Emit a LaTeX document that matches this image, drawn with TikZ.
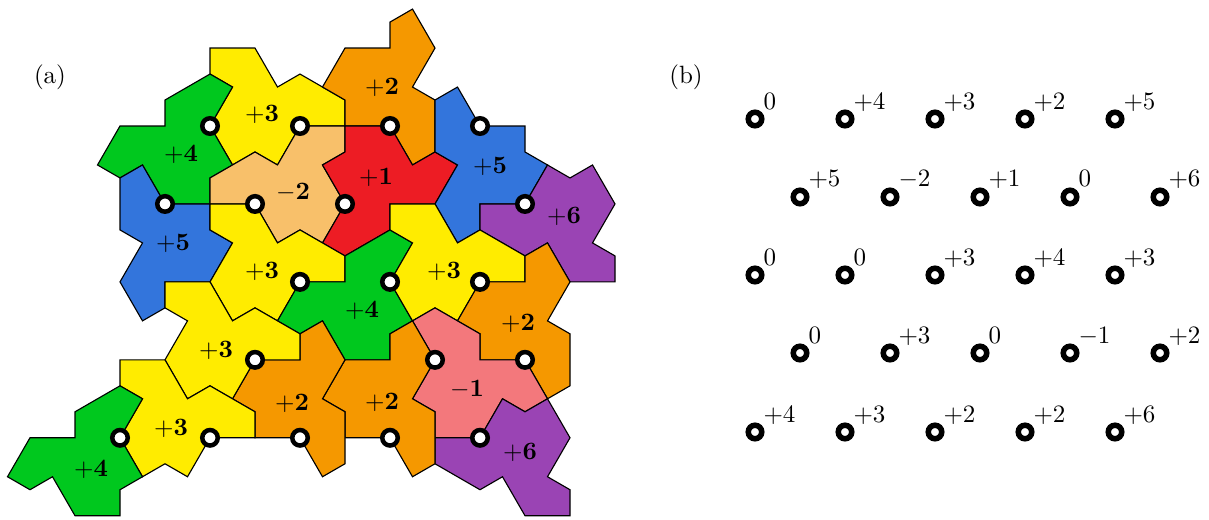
\documentclass[tikz,border=0pt]{standalone}
\definecolor{tyellow}{RGB}{255,236,0}
\definecolor{tgreen}{RGB}{0,200,30}
\definecolor{tblue}{RGB}{51,117,220}
\definecolor{torange}{RGB}{245,152,0}
\definecolor{tred}{RGB}{237,28,36}
\definecolor{tpeach}{RGB}{248,192,106}
\definecolor{tpurple}{RGB}{154,68,180}
\definecolor{tsalmon}{RGB}{243,120,124}
\tikzset{
  tile/.style={draw=black,line width=0.45pt,line join=miter},
  dota/.style={circle,draw=black,fill=white,line width=1.8pt,minimum size=6.2pt,inner sep=0pt},
  dotb/.style={circle,draw=black,fill=white,line width=2.2pt,minimum size=5.4pt,inner sep=0pt},
  tlabel/.style={inner sep=0pt},
  sup/.style={anchor=base west,inner sep=0pt}
}
\begin{document}
\begin{tikzpicture}[x=0.4pt,y=-0.4pt]
\useasboundingbox (0,0) rectangle (1209,520);
\begin{scope}[shift={(30,126)}]
\begin{scope}[x=9pt,y=-5.19615pt]
% tiles
\fill[tyellow,tile] (8,-6)--(10,-6)--(11,-3)--(12,-4)--(14,-2)--(14,0)--(12,0)--(11,3)--(10,2)--(9,3)--(8,0)--(9,-3)--(8,-4)--cycle;
\fill[tgreen,tile] (8,0)--(9,-3)--(8,-4)--(6,-2)--(6,0)--(4,0)--(3,3)--(4,4)--(5,3)--(6,6)--(8,6)--(8,4)--(9,3)--cycle;
\fill[tpeach,tile] (8,4)--(10,2)--(11,3)--(12,0)--(14,0)--(14,2)--(13,3)--(14,6)--(13,9)--(12,8)--(11,9)--(10,6)--(8,6)--cycle;
\fill[torange,tile] (17,-9)--(18,-6)--(17,-3)--(18,-2)--(18,2)--(17,3)--(16,0)--(14,0)--(14,-2)--(13,-3)--(14,-6)--(16,-6)--(16,-8)--cycle;
\fill[tred,tile] (16,0)--(17,3)--(18,2)--(19,3)--(18,6)--(16,6)--(16,8)--(14,10)--(13,9)--(14,6)--(13,3)--(14,2)--(14,0)--cycle;
\fill[tblue,tile] (18,-2)--(19,-3)--(20,0)--(22,0)--(22,2)--(23,3)--(22,6)--(20,6)--(20,8)--(19,9)--(18,6)--(19,3)--(18,2)--cycle;
\fill[tpurple,tile] (22,6)--(23,3)--(24,4)--(25,3)--(26,6)--(25,9)--(26,10)--(26,12)--(24,12)--(23,9)--(22,10)--(20,8)--(20,6)--cycle;
\fill[tblue,tile] (6,6)--(5,3)--(4,4)--(4,8)--(5,9)--(4,12)--(5,15)--(6,14)--(6,12)--(8,12)--(9,9)--(8,8)--(8,6)--cycle;
\fill[tyellow,tile] (8,6)--(8,8)--(9,9)--(8,12)--(9,15)--(10,14)--(11,15)--(12,12)--(14,12)--(14,10)--(13,9)--(12,8)--(11,9)--(10,6)--cycle;
\fill[tgreen,tile] (14,10)--(16,8)--(17,9)--(16,12)--(17,15)--(16,16)--(16,18)--(14,18)--(13,15)--(12,16)--(11,15)--(12,12)--(14,12)--cycle;
\fill[tyellow,tile] (16,6)--(18,6)--(19,9)--(20,8)--(22,10)--(22,12)--(20,12)--(19,15)--(18,14)--(17,15)--(16,12)--(17,9)--(16,8)--cycle;
\fill[torange,tile] (22,10)--(23,9)--(24,12)--(23,15)--(24,16)--(24,20)--(23,21)--(22,18)--(20,18)--(20,16)--(19,15)--(20,12)--(22,12)--cycle;
\fill[tsalmon,tile] (18,14)--(19,15)--(20,16)--(20,18)--(22,18)--(23,21)--(22,22)--(21,21)--(20,24)--(18,24)--(18,22)--(17,21)--(18,18)--(17,15)--cycle;
\fill[tpurple,tile] (18,24)--(20,24)--(21,21)--(22,22)--(23,21)--(24,24)--(23,27)--(24,28)--(24,30)--(22,30)--(21,27)--(20,28)--(18,26)--cycle;
\fill[torange,tile] (17,21)--(18,22)--(18,24)--(18,26)--(17,27)--(16,24)--(14,24)--(14,22)--(13,21)--(14,18)--(16,18)--(16,16)--(17,15)--(18,18)--cycle;
\fill[torange,tile] (12,16)--(13,15)--(14,18)--(13,21)--(14,22)--(14,26)--(13,27)--(12,24)--(10,24)--(10,22)--(9,21)--(10,18)--(12,18)--cycle;
\fill[tyellow,tile] (8,12)--(9,15)--(10,14)--(11,15)--(12,16)--(12,18)--(10,18)--(9,21)--(8,20)--(7,21)--(6,18)--(7,15)--(6,14)--(6,12)--cycle;
\fill[tyellow,tile] (4,18)--(6,18)--(7,21)--(8,20)--(10,22)--(10,24)--(8,24)--(7,27)--(6,26)--(5,27)--(4,24)--(5,21)--(4,20)--cycle;
\fill[tgreen,tile] (4,20)--(5,21)--(4,24)--(5,27)--(4,28)--(4,30)--(2,30)--(1,27)--(0,28)--(-1,27)--(0,24)--(2,24)--(2,22)--cycle;
% centres
\foreach \a/\b [count=\i] in {8/0,12/0,16/0,20/0,6/6,10/6,14/6,22/6,12/12,16/12,20/12,10/18,18/18,22/18,4/24,8/24,12/24,16/24,20/24}
  \node[dota] (c\i) at (\a,\b) {};
\end{scope}
\end{scope}
% tile labels
\foreach \x/\y/\t [count=\i] in {262/114/+3, 181/154/+4, 293/192/-2, 382/87/+2, 376/177/+1, 490/166/+5, 564/216/+6, 173/243/+5, 262/271/+3, 362/310/+4, 444/271/+3, 518/323/+2, 216/350/+3, 171/428/+3, 91/469/+4, 292/403/+2, 382/402/+2, 467/389/-1, 520/452/+6}
  \node[tlabel] (t\i) at (\x,\y) {$\mathbf{\t}$};
\node[tlabel] (pa) at (50,77) {(a)};
\node[tlabel] (pb) at (686,77) {(b)};
% part (b)
\foreach \x/\y/\t [count=\i] in {
  755/119/0, 845/119/+4, 935/119/+3, 1025/119/+2, 1115/119/+5,
  800/197/+5, 890/197/-2, 980/197/+1, 1070/197/0, 1160/197/+6,
  755/275/0, 845/275/0, 935/275/+3, 1025/275/+4, 1115/275/+3,
  800/353/0, 890/353/+3, 980/353/0, 1070/353/-1, 1160/353/+2,
  755/432/+4, 845/432/+3, 935/432/+2, 1025/432/+2, 1115/432/+6}
{
  \node[dotb] (d\i) at (\x,\y) {};
  \node[sup] (s\i) at ([shift={(8,-10)}]d\i.center) {$\t$};
}
\end{tikzpicture}
\end{document}
